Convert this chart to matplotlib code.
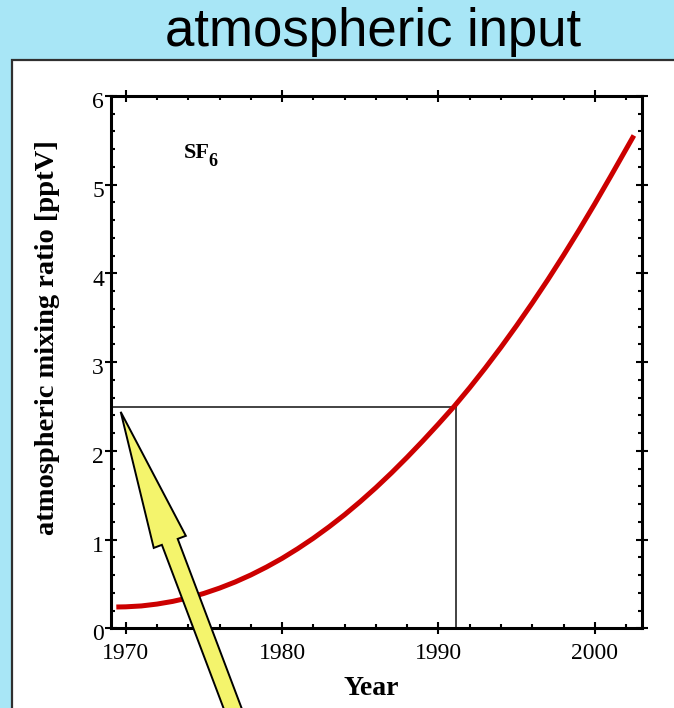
import numpy as np
import matplotlib
matplotlib.use("Agg")
import matplotlib.pyplot as plt
from matplotlib.patches import Rectangle, FancyArrow
from matplotlib.ticker import MultipleLocator
from matplotlib.transforms import ScaledTranslation

# SF6 atmospheric mixing ratio history [pptV]
years = [1969.4, 1970, 1971, 1972, 1973, 1974, 1975, 1976, 1977, 1978, 1979,
         1980, 1981, 1982, 1983, 1984, 1985, 1986, 1987, 1988, 1989, 1990,
         1991, 1992, 1993, 1994, 1995, 1996, 1997, 1998, 1999, 2000, 2001,
         2002, 2002.5]
sf6 = [0.240, 0.242, 0.252, 0.273, 0.303, 0.343, 0.393, 0.453, 0.522, 0.601,
       0.690, 0.788, 0.897, 1.015, 1.143, 1.280, 1.428, 1.585, 1.752, 1.928,
       2.112, 2.303, 2.500, 2.712, 2.935, 3.168, 3.412, 3.666, 3.930, 4.205,
       4.490, 4.785, 5.090, 5.400, 5.555]

# reference level and the year it was reached
ref_value = 2.5
ref_year = 1991.1

x_ticks = [1970, 1980, 1990, 2000]
y_ticks = [0, 1, 2, 3, 4, 5, 6]

serif = "Liberation Serif"

fig = plt.figure(figsize=(6.74, 7.08), dpi=100)
fig.set_facecolor("#a8e6f6")

# white slide panel behind the plot
panel = Rectangle((12 / 674, -0.1), 1.2, 1 - 60 / 708 + 0.1,
                  transform=fig.transFigure, facecolor="white",
                  edgecolor="#303030", linewidth=1.6, zorder=-1)
fig.add_artist(panel)

fig.text(373.5 / 674, 1 - 45.7 / 708, "atmospheric input", ha="center",
         va="baseline", fontsize=38, family="Liberation Sans", color="black")

ax = fig.add_axes([111 / 674, 1 - 628.3 / 708, 530.7 / 674, 532.3 / 708])
ax.set_facecolor("white")

ax.plot(years, sf6, color="#cc0000", linewidth=3.6, solid_capstyle="butt",
        solid_joinstyle="round", zorder=3)

x0, x1 = 1969.06, 2003.0
ax.plot([x0, ref_year], [ref_value, ref_value], color="#222222",
        linewidth=1.2, zorder=2)
ax.plot([ref_year, ref_year], [0, ref_value], color="#222222",
        linewidth=1.2, zorder=2)

ax.set_xlim(x0, x1)
ax.set_ylim(0, 6)
ax.set_xticks(x_ticks)
ax.set_yticks(y_ticks)
ax.xaxis.set_minor_locator(MultipleLocator(2))
ax.yaxis.set_minor_locator(MultipleLocator(0.2))

for s in ax.spines.values():
    s.set_linewidth(2.2)
ax.tick_params(which="major", direction="inout", length=8, width=1.5,
               top=True, right=True, labelsize=17, pad=6.5)
ax.tick_params(axis="y", which="major", pad=1)
ax.tick_params(which="minor", direction="in", length=3, width=1.5,
               top=True, right=True)
for lab in ax.get_xticklabels() + ax.get_yticklabels():
    lab.set_family(serif)
for lab in ax.get_yticklabels():
    lab.set_transform(lab.get_transform() +
                      ScaledTranslation(0, -3 / 72, fig.dpi_scale_trans))

ax.set_xlabel("Year", family=serif, fontweight="bold", fontsize=20,
              va="center")
ax.xaxis.set_label_coords(0.49, -0.114)
ax.set_ylabel("atmospheric mixing ratio [pptV]", family=serif,
              fontweight="bold", fontsize=20.5, va="center")
ax.yaxis.set_label_coords(-0.119, 0.547)

# species label with a separately placed subscript
ax.text(1973.73, 5.30, "SF", family=serif, fontweight="bold",
        fontsize=16, ha="left", va="baseline")
ax.text(1975.3, 5.21, "6", family=serif, fontweight="bold",
        fontsize=13, ha="left", va="baseline")

# yellow pointer arrow, built in inches so its shape is not stretched
tip_data = (1969.68, 2.44)
tail_fig = (244.6 / 674, -32 / 708)
tip_px = ax.transData.transform(tip_data)
tail_px = fig.transFigure.transform(tail_fig)
tip_in = tip_px / fig.dpi
tail_in = tail_px / fig.dpi
arrow = FancyArrow(tail_in[0], tail_in[1], tip_in[0] - tail_in[0],
                   tip_in[1] - tail_in[1], width=0.169, head_width=0.343,
                   head_length=1.39, length_includes_head=True,
                   transform=fig.dpi_scale_trans, facecolor="#f4f46c",
                   edgecolor="black", linewidth=1.4, zorder=5)
fig.add_artist(arrow)

fig.savefig("out.png", dpi=100)
